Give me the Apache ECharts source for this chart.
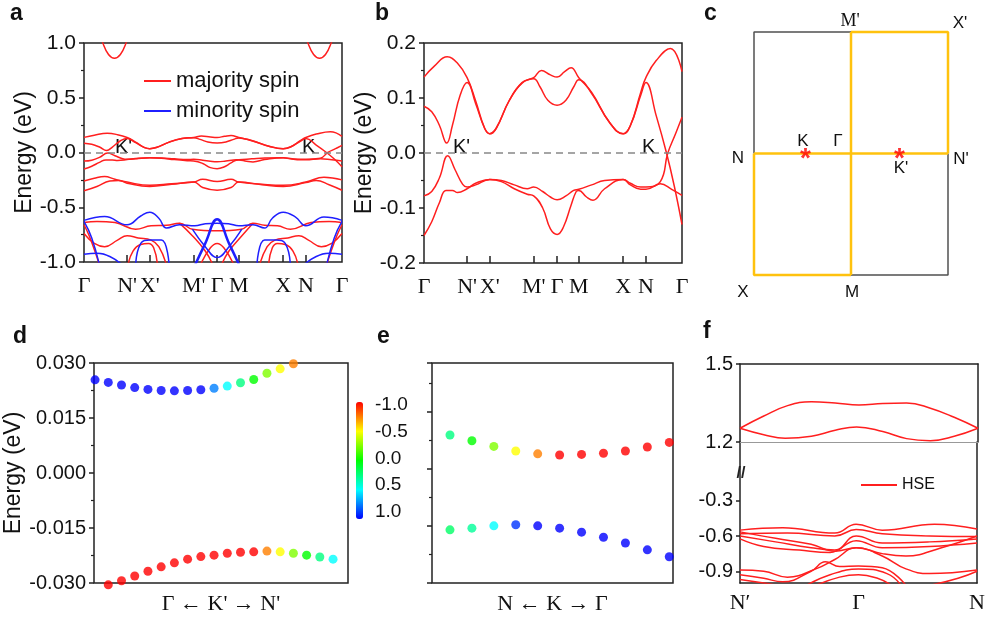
<!DOCTYPE html>
<html>
<head>
<meta charset="utf-8">
<title>Band structure panels</title>
<script src="https://cdn.jsdelivr.net/npm/echarts@6/dist/echarts.min.js"></script>
<style>html,body{margin:0;padding:0;background:#fff}#main{width:988px;height:624px}</style>
</head>
<body>
<div id="main"></div>
<script>
var SANS = 'Liberation Sans, Arial, sans-serif';
var SERIF = 'Liberation Serif, Times New Roman, serif';
var RED = '#ff1f1f', BLUE = '#1f1fff', GOLD = '#ffc20e', INK = '#222';

// k-path of panels a and b
var kPts = [0, 0.167, 0.255, 0.425, 0.516, 0.6, 0.772, 0.86, 1];
var kLabels = ['Γ', "N'", "X'", "M'", 'Γ', 'M', 'X', 'N', 'Γ'];

// bands near the Fermi level (panels a and b)
var bandC1 = [[0,0.138],[0.04,0.158],[0.09,0.175],[0.13,0.163],[0.167,0.137],[0.2,0.095],[0.235,0.045],[0.255,0.035],[0.28,0.045],[0.33,0.095],[0.38,0.128],[0.425,0.137],[0.455,0.15],[0.49,0.142],[0.516,0.138],[0.545,0.148],[0.57,0.155],[0.6,0.137],[0.65,0.11],[0.72,0.055],[0.772,0.035],[0.8,0.05],[0.84,0.11],[0.86,0.137],[0.9,0.168],[0.955,0.19],[1,0.148]];
var bandC2 = [[0,0.085],[0.03,0.075],[0.06,0.05],[0.088,0.018],[0.11,0.05],[0.14,0.105],[0.167,0.128],[0.2,0.09],[0.235,0.045],[0.255,0.035],[0.28,0.045],[0.33,0.095],[0.38,0.127],[0.425,0.135],[0.45,0.12],[0.48,0.096],[0.516,0.087],[0.55,0.096],[0.58,0.12],[0.6,0.133],[0.65,0.108],[0.72,0.055],[0.772,0.035],[0.8,0.05],[0.84,0.105],[0.86,0.128],[0.9,0.068],[0.94,0.0],[0.97,-0.06],[1,-0.13]];
var bandV1 = [[0,-0.078],[0.03,-0.07],[0.06,-0.045],[0.092,-0.005],[0.12,-0.03],[0.15,-0.057],[0.167,-0.062],[0.2,-0.058],[0.255,-0.048],[0.3,-0.05],[0.35,-0.058],[0.4,-0.065],[0.425,-0.062],[0.46,-0.07],[0.49,-0.08],[0.516,-0.085],[0.55,-0.078],[0.58,-0.068],[0.6,-0.066],[0.65,-0.058],[0.7,-0.05],[0.772,-0.048],[0.8,-0.055],[0.84,-0.062],[0.86,-0.062],[0.916,-0.052],[0.945,0.0],[0.975,0.035],[1,0.065]];
var bandV2 = [[0,-0.15],[0.03,-0.125],[0.06,-0.09],[0.085,-0.068],[0.11,-0.068],[0.13,-0.072],[0.167,-0.065],[0.2,-0.055],[0.255,-0.048],[0.3,-0.052],[0.35,-0.065],[0.4,-0.075],[0.425,-0.078],[0.46,-0.1],[0.49,-0.138],[0.516,-0.148],[0.54,-0.135],[0.57,-0.095],[0.59,-0.07],[0.6,-0.068],[0.63,-0.08],[0.655,-0.086],[0.7,-0.065],[0.772,-0.048],[0.8,-0.058],[0.84,-0.066],[0.86,-0.066],[0.916,-0.056],[0.96,-0.066],[1,-0.077]];

// panel a: bands around -0.3 eV and above 0.8 eV
var aMid1 = [[0,-0.26],[0.04,-0.235],[0.08,-0.22],[0.12,-0.245],[0.167,-0.27],[0.255,-0.3],[0.34,-0.285],[0.425,-0.27],[0.46,-0.245],[0.516,-0.265],[0.57,-0.245],[0.6,-0.27],[0.69,-0.29],[0.772,-0.3],[0.86,-0.27],[0.93,-0.225],[1,-0.25]];
var aMid2 = [[0,-0.35],[0.05,-0.31],[0.1,-0.26],[0.135,-0.255],[0.167,-0.28],[0.255,-0.31],[0.34,-0.29],[0.425,-0.27],[0.46,-0.32],[0.516,-0.345],[0.57,-0.32],[0.6,-0.27],[0.69,-0.295],[0.772,-0.31],[0.86,-0.275],[0.9,-0.255],[0.95,-0.295],[1,-0.345]];
var aTop1 = [[0.055,1.14],[0.073,1.0],[0.095,0.895],[0.118,0.86],[0.141,0.895],[0.163,1.0],[0.181,1.14]];
var aTop2 = [[0.85,1.14],[0.868,1.0],[0.89,0.895],[0.913,0.86],[0.936,0.895],[0.958,1.0],[0.976,1.14]];

// panel a: deeper majority (red) bands
var aRed1 = [[0,-0.64],[0.05,-0.63],[0.12,-0.64],[0.2,-0.7],[0.26,-0.67],[0.32,-0.665],[0.37,-0.645],[0.42,-0.7],[0.516,-0.715],[0.61,-0.7],[0.655,-0.645],[0.7,-0.665],[0.75,-0.67],[0.8,-0.7],[0.88,-0.64],[0.95,-0.63],[1,-0.64]];
var aRed2 = [[0,-0.74],[0.04,-0.83],[0.08,-0.86],[0.13,-0.8],[0.167,-0.76],[0.21,-0.78],[0.26,-0.8],[0.29,-0.86],[0.32,-1.03]];
var aRed2r = [[0.68,-1.03],[0.71,-0.86],[0.74,-0.8],[0.79,-0.78],[0.833,-0.76],[0.87,-0.8],[0.92,-0.86],[0.96,-0.83],[1,-0.74]];
var aRed3 = [[0,-0.66],[0.02,-0.76],[0.045,-0.92],[0.06,-1.03]];
var aRed3r = [[0.94,-1.03],[0.955,-0.92],[0.98,-0.76],[1,-0.66]];
var aRed4 = [[0.17,-1.03],[0.19,-0.9],[0.22,-0.84],[0.25,-0.83],[0.27,-0.87],[0.285,-1.03]];
var aRed4r = [[0.715,-1.03],[0.73,-0.87],[0.75,-0.83],[0.78,-0.84],[0.81,-0.9],[0.83,-1.03]];
var aRed5 = [[0.37,-0.645],[0.42,-0.76],[0.47,-0.9],[0.5,-1.03]];
var aRed5r = [[0.532,-1.03],[0.562,-0.9],[0.612,-0.76],[0.655,-0.645]];
var aRed6 = [[0.45,-1.03],[0.49,-0.87],[0.516,-0.83],[0.542,-0.87],[0.582,-1.03]];

// panel a: minority (blue) bands
var aBlue1 = [[0,-0.62],[0.08,-0.585],[0.167,-0.66],[0.22,-0.58],[0.255,-0.545],[0.29,-0.6],[0.32,-0.69],[0.37,-0.66],[0.43,-0.67],[0.47,-0.65],[0.516,-0.645],[0.56,-0.65],[0.6,-0.67],[0.655,-0.66],[0.7,-0.69],[0.73,-0.6],[0.772,-0.545],[0.82,-0.59],[0.86,-0.67],[0.93,-0.59],[1,-0.62]];
var aBlue2 = [[0.43,-1.03],[0.47,-0.83],[0.516,-0.61],[0.562,-0.83],[0.602,-1.03]];
var aBlue3 = [[0.42,-0.7],[0.47,-0.86],[0.516,-0.96],[0.562,-0.86],[0.612,-0.7]];
var aBlue4 = [[0,-0.93],[0.05,-0.92],[0.1,-0.95],[0.15,-1.03]];
var aBlue4r = [[0.85,-1.03],[0.9,-0.95],[0.95,-0.92],[1,-0.93]];
var aBlue5 = [[0,-0.63],[0.03,-0.78],[0.06,-1.03]];
var aBlue5r = [[0.94,-1.03],[0.97,-0.78],[1,-0.63]];
var aBlue6 = [[0.2,-1.03],[0.22,-0.83],[0.255,-0.8],[0.3,-0.8],[0.33,-1.03]];
var aBlue6r = [[0.67,-1.03],[0.7,-0.8],[0.745,-0.8],[0.78,-0.83],[0.8,-1.03]];

// panel c: Brillouin zone (N..N' on x, M..M' on y)
var cGray = [[[-1,0],[-1,1],[0,1]], [[0,-1],[1,-1],[1,0]]];
var cGold = [[[0,1],[1,1],[1,0]], [[-1,0],[-1,-1],[0,-1]], [[-1,0],[1,0]], [[0,1],[0,-1]]];
var cValleys = [[-0.47,0],[0.5,0]];

// panel d: energies (eV) and spin texture along Γ <- K' -> N'
var dUpperE = [0.0254,0.0247,0.0240,0.0233,0.0228,0.0225,0.0224,0.0225,0.0227,0.0231,0.0237,0.0246,0.0255,0.0272,0.0284,0.0298];
var dUpperC = [1,1,1,1,1,1,1,1,1,0.75,0.5,0.25,0,-0.25,-0.5,-0.75];
var dLowerE = [-0.0305,-0.0294,-0.0281,-0.0268,-0.0256,-0.0245,-0.0235,-0.0228,-0.0224,-0.0219,-0.0216,-0.0215,-0.0213,-0.0215,-0.0219,-0.0224,-0.0229,-0.0235];
var dLowerC = [-1,-1,-1,-1,-1,-1,-1,-1,-1,-1,-1,-1,-0.75,-0.5,-0.25,0,0.25,0.5];

// panel e: energies (arb. units) and spin texture along N <- K -> Γ
var eUpperE = [2.59,2.49,2.39,2.31,2.26,2.24,2.25,2.27,2.31,2.38,2.46];
var eUpperC = [0.25,0,-0.25,-0.5,-0.75,-1,-1,-1,-1,-1,-1];
var eLowerE = [0.93,0.96,1.00,1.02,1.00,0.96,0.89,0.80,0.70,0.58,0.46];
var eLowerC = [0.2,0.3,0.5,0.9,1,1,1,1,1,1,1];

// panel f: HSE bands (k from N' to N)
var fLabels = ['N′', 'Γ', 'N'];
var fUp = [
  [[0,1.253],[0.1,1.3],[0.2,1.34],[0.3,1.355],[0.4,1.35],[0.5,1.342],[0.6,1.348],[0.7,1.35],[0.8,1.33],[0.9,1.295],[1,1.253]],
  [[0,1.253],[0.1,1.228],[0.19,1.214],[0.3,1.222],[0.4,1.245],[0.49,1.258],[0.6,1.24],[0.7,1.213],[0.8,1.205],[0.9,1.222],[1,1.253]]
];
var fLow = [
  [[0,-0.55],[0.18,-0.53],[0.4,-0.575],[0.49,-0.5],[0.6,-0.55],[0.82,-0.5],[1,-0.54]],
  [[0,-0.58],[0.2,-0.575],[0.4,-0.6],[0.49,-0.545],[0.6,-0.58],[0.8,-0.6],[1,-0.605]],
  [[0,-0.6],[0.15,-0.65],[0.3,-0.7],[0.4,-0.72],[0.49,-0.6],[0.6,-0.66],[0.8,-0.65],[1,-0.625]],
  [[0,-0.625],[0.1,-0.69],[0.25,-0.72],[0.38,-0.74],[0.49,-0.64],[0.6,-0.7],[0.8,-0.69],[1,-0.66]],
  [[0,-0.565],[0.15,-0.62],[0.3,-0.67],[0.4,-0.73],[0.49,-0.7],[0.6,-0.75],[0.7,-0.77],[0.85,-0.7],[1,-0.6]],
  [[0,-0.89],[0.1,-0.9],[0.2,-0.95],[0.32,-0.88],[0.4,-0.8],[0.49,-0.7],[0.6,-0.77],[0.7,-0.88],[0.8,-0.92],[1,-0.89]],
  [[0,-0.93],[0.1,-0.96],[0.18,-0.99],[0.3,-0.9],[0.36,-0.82],[0.42,-0.86],[0.5,-0.855],[0.6,-0.87],[0.7,-1.02]],
  [[0.28,-1.02],[0.38,-0.93],[0.5,-0.88],[0.62,-0.92],[0.68,-1.02]],
  [[0.32,-1.02],[0.42,-0.95],[0.5,-0.93],[0.58,-0.96],[0.64,-1.02]],
  [[0,-0.97],[0.1,-1.0],[0.16,-1.02]],
  [[0.8,-1.02],[0.92,-0.96],[1,-0.9]]
];

function band(name, color, xi, yi, data, w) {
  return {
    type: 'line', name: name, xAxisIndex: xi, yAxisIndex: yi, data: data,
    symbol: 'none', smooth: 0.45, silent: true,
    lineStyle: { color: color, width: w || 1.5 }, itemStyle: { color: color }
  };
}
function zeroLine() {
  return { silent: true, symbol: ['none', 'none'], label: { show: false },
    lineStyle: { color: '#888', type: [7, 5], width: 1.5 }, data: [{ yAxis: 0 }] };
}
function dots(k0, E, C, xi) {
  var out = [];
  for (var i = 0; i < E.length; i++) out.push([k0 + i, E[i], C[i]]);
  return { type: 'scatter', xAxisIndex: xi, yAxisIndex: xi, data: out,
    symbolSize: 9, clip: false, silent: true };
}

var series = [];
var MAJ = 'majority spin', MIN = 'minority spin';
// panel a
[aRed1, aRed2, aRed2r, aRed3, aRed3r, aRed4, aRed4r, aRed5, aRed5r, aRed6].forEach(function (b) {
  series.push(band(MAJ, RED, 0, 0, b));
});
[aBlue1, aBlue3, aBlue4, aBlue4r, aBlue5, aBlue5r, aBlue6, aBlue6r].forEach(function (b) {
  series.push(band(MIN, BLUE, 0, 0, b));
});
series.push(band(MIN, BLUE, 0, 0, aBlue2, 2.5));
[aMid1, aMid2, aTop1, aTop2, bandC1, bandC2, bandV1, bandV2].forEach(function (b) {
  series.push(band(MAJ, RED, 0, 0, b));
});
series[series.length - 1].markLine = zeroLine();
// panel b
[bandC1, bandC2, bandV1, bandV2].forEach(function (b) {
  series.push(band('b', RED, 1, 1, b));
});
series[series.length - 1].markLine = zeroLine();
// panel c
cGray.forEach(function (p) {
  var s = band('c', '#505050', 2, 2, p); s.smooth = false; s.clip = false; series.push(s);
});
cGold.forEach(function (p) {
  var s = band('c', GOLD, 2, 2, p, 2.5); s.smooth = false; s.clip = false; series.push(s);
});
series.push({ type: 'scatter', xAxisIndex: 2, yAxisIndex: 2, data: cValleys, silent: true, z: 20,
  symbolSize: 1, itemStyle: { color: 'rgba(0,0,0,0)' },
  label: { show: true, position: 'inside', formatter: '*', offset: [0, 6], color: '#ff0000',
    fontFamily: SANS, fontSize: 28, fontWeight: 'bold' } });
// panels d and e
var dotStart = series.length;
series.push(dots(0, dUpperE, dUpperC, 3));
series.push(dots(1, dLowerE, dLowerC, 3));
series.push(dots(1, eUpperE, eUpperC, 4));
series.push(dots(1, eLowerE, eLowerC, 4));
// panel f
fUp.forEach(function (b) { series.push(band('HSE', RED, 6, 6, b)); });
fLow.forEach(function (b) { series.push(band('HSE', RED, 8, 8, b)); });

var boxGrid = { show: true, borderColor: INK, borderWidth: 1.5, backgroundColor: 'transparent' };
function grid(l, t, w, h, box) {
  var g = { left: l, top: t, width: w, height: h, containLabel: false };
  if (box) for (var k in boxGrid) g[k] = boxGrid[k];
  return g;
}
function kAxis(gi) {
  return {
    gridIndex: gi, type: 'value', min: 0, max: 1,
    axisLine: { show: false, onZero: false }, splitLine: { show: false },
    axisTick: { show: true, inside: true, length: 7, customValues: kPts.slice(1, -1), lineStyle: { color: INK, width: 1.5 } },
    axisLabel: { customValues: kPts, formatter: function (v) { return kLabels[kPts.indexOf(v)]; },
      fontFamily: SERIF, fontSize: 22, color: '#111', margin: 13 }
  };
}
function eAxis(gi, min, max, step, digits, size, name, gap) {
  return {
    gridIndex: gi, type: 'value', min: min, max: max, interval: step,
    axisLine: { show: false, onZero: false }, splitLine: { show: false },
    axisTick: { show: true, length: 5, lineStyle: { color: INK, width: 1.5 } },
    minorTick: { show: true, splitNumber: 2, length: 3, lineStyle: { color: INK, width: 1.2 } },
    minorSplitLine: { show: false },
    axisLabel: { show: digits !== null, formatter: function (v) { return v.toFixed(digits); },
      fontFamily: SANS, fontSize: size, color: '#111', margin: 8 },
    name: name, nameLocation: 'middle', nameGap: gap, nameRotate: 90,
    nameTextStyle: { fontFamily: SANS, fontSize: 23, color: '#111' }
  };
}
function hidden(gi, min, max) {
  return { gridIndex: gi, type: 'value', min: min, max: max, show: false };
}
function frameAxis(gi, pos, min, max, color, w) {
  return { gridIndex: gi, type: 'value', position: pos, min: min, max: max,
    axisLine: { show: true, onZero: false, lineStyle: { color: color, width: w } },
    axisTick: { show: false }, axisLabel: { show: false }, splitLine: { show: false } };
}
function pathName(gi, min, max, text) {
  return { gridIndex: gi, type: 'value', min: min, max: max,
    axisLine: { show: false, onZero: false }, axisTick: { show: false }, axisLabel: { show: false },
    splitLine: { show: false }, name: text, nameLocation: 'middle', nameGap: 10,
    nameTextStyle: { fontFamily: SERIF, fontSize: 22, color: '#111' } };
}

var fLowAxis = {
  gridIndex: 7, type: 'value', min: 0, max: 1,
  axisLine: { show: true, onZero: false, lineStyle: { color: INK, width: 1.5 } },
  axisTick: { show: false }, splitLine: { show: false },
  axisLabel: { customValues: [0, 0.5, 1], formatter: function (v) { return fLabels[[0, 0.5, 1].indexOf(v)]; },
    fontFamily: SERIF, fontSize: 22, color: '#111', margin: 9 }
};
function fY(gi, min, max, vals) {
  return { gridIndex: gi, type: 'value', min: min, max: max,
    axisLine: { show: true, onZero: false, lineStyle: { color: INK, width: 1.5 } },
    axisTick: { show: true, length: 4, customValues: vals, lineStyle: { color: INK, width: 1.5 } },
    axisLabel: { customValues: vals, formatter: function (v) { return v.toFixed(1); },
      fontFamily: SANS, fontSize: 20, color: '#111', margin: 7 },
    splitLine: { show: false } };
}

var colorbarAxis = { gridIndex: 5, type: 'value', position: 'right', inverse: true, min: -1, max: 1, interval: 0.5,
  axisLine: { show: false }, axisTick: { show: false }, splitLine: { show: false },
  axisLabel: { formatter: function (v) { return v.toFixed(1); }, fontFamily: SANS, fontSize: 19, color: '#111', margin: 12 } };

function txt(s, x, y, size, opts) {
  opts = opts || {};
  return { type: 'text', x: x, y: y, silent: true, style: {
    text: s, fontFamily: opts.font || SANS, fontSize: size, fontWeight: opts.bold ? 'bold' : 'normal',
    fill: opts.color || '#111', textAlign: opts.align || 'left', textVerticalAlign: 'middle' } };
}
var graphics = [
  txt('a', 10, 14, 23, { bold: true }), txt('b', 375, 14, 23, { bold: true }), txt('c', 704, 14, 23, { bold: true }),
  txt('d', 13, 337, 23, { bold: true }), txt('e', 377, 337, 23, { bold: true }), txt('f', 703, 332, 23, { bold: true }),
  txt("K'", 115, 147, 20), txt('K', 302, 147, 20), txt("K'", 453, 147, 20), txt('K', 642, 147, 20),
  txt("M'", 850, 21, 18, { align: 'center', font: SERIF }), txt("X'", 960, 23, 17, { align: 'center' }),
  txt('N', 738, 158, 17, { align: 'center' }), txt('K', 803, 141, 17, { align: 'center' }),
  txt('Γ', 838, 141, 17, { align: 'center' }), txt("N'", 961, 159, 17, { align: 'center' }),
  txt("K'", 901, 168, 17, { align: 'center' }), txt('X', 743, 292, 17, { align: 'center' }),
  txt('M', 852, 292, 17, { align: 'center' }),
  txt('//', 741, 474, 16, { align: 'center', color: INK, bold: true })
];

var chart = echarts.init(document.getElementById('main'), null, { renderer: 'canvas' });
chart.setOption({
  backgroundColor: '#fff',
  animation: false,
  grid: [
    grid(84, 43, 258, 219, true),
    grid(424, 43, 258, 220, true),
    grid(754, 32, 194, 243, false),
    grid(94, 363, 254, 220, true),
    grid(432, 363, 241, 220, true),
    grid(356, 405, 7, 107, false),
    grid(740, 364, 238, 78, false),
    grid(740, 442, 238, 141, false)
  ],
  xAxis: [
    kAxis(0), kAxis(1), hidden(2, -1, 1),
    pathName(3, -0.08, 19.13, "Γ ← K' → N'"),
    pathName(4, 0.18, 11.17, 'N ← K → Γ'),
    hidden(5, 0, 1),
    frameAxis(6, 'bottom', 0, 1, '#999', 1),
    frameAxis(6, 'top', 0, 1, INK, 1.5),
    fLowAxis
  ],
  yAxis: [
    eAxis(0, -1, 1, 0.5, 1, 21, 'Energy (eV)', 32),
    eAxis(1, -0.2, 0.2, 0.1, 1, 21, 'Energy (eV)', 32),
    hidden(2, -1, 1),
    eAxis(3, -0.03, 0.03, 0.015, 3, 20, 'Energy (eV)', 52),
    eAxis(4, 0, 3.85, 1, null, 20, '', 0),
    colorbarAxis,
    fY(6, 1.2, 1.5, [1.2, 1.5]),
    frameAxis(6, 'right', 1.2, 1.5, INK, 1.5),
    fY(7, -1.0, 0.2, [-0.3, -0.6, -0.9]),
    frameAxis(7, 'right', -1.0, 0.2, INK, 1.5)
  ],
  legend: [
    { data: [MAJ, MIN], orient: 'vertical', left: 139, top: 65, itemWidth: 27, itemHeight: 2, itemGap: 8,
      icon: 'rect', selectedMode: false, textStyle: { fontFamily: SANS, fontSize: 22, color: '#111' } },
    { data: ['HSE'], left: 856, top: 472, itemWidth: 36, itemHeight: 2, icon: 'rect', selectedMode: false,
      textStyle: { fontFamily: SANS, fontSize: 16, color: '#111' } }
  ],
  visualMap: {
    type: 'continuous', min: -1, max: 1, dimension: 2, inverse: true, calculable: false, hoverLink: false,
    seriesIndex: [dotStart, dotStart + 1, dotStart + 2, dotStart + 3],
    left: 356, top: 402, itemWidth: 7, itemHeight: 117, padding: 0,
    inRange: { color: ['#ff0000', '#ffff00', '#00ff00', '#00ffff', '#0000ff'] }
  },
  graphic: graphics,
  series: series
});
</script>
</body>
</html>
